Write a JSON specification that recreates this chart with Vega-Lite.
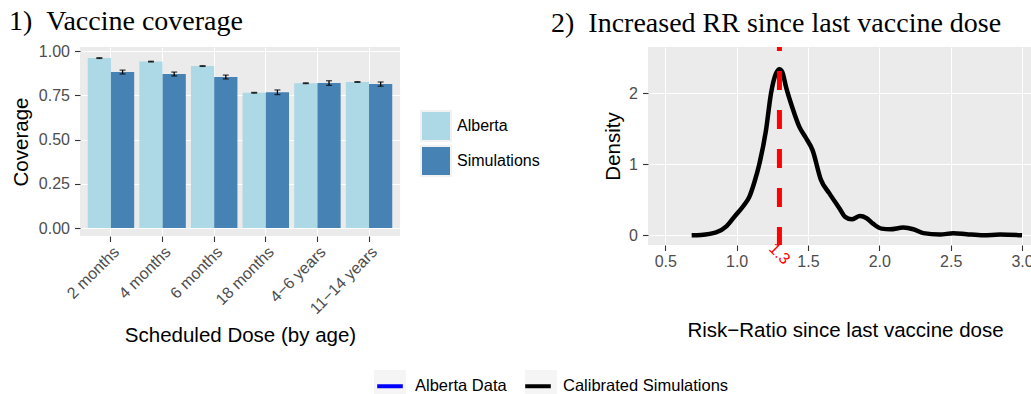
{
  "$schema": "https://vega.github.io/schema/vega-lite/v6.json",
  "autosize": {"type": "pad"},
  "padding": {"left": 9, "top": 8, "right": 0, "bottom": 0},
  "background": "white",
  "spacing": 248,
  "bounds": "flush",
  "config": {
    "font": "Liberation Sans",
    "view": {"fill": "#EBEBEB", "stroke": null},
    "axis": {
      "domain": false,
      "gridColor": "#FFFFFF",
      "gridWidth": 1.1,
      "tickColor": "#333333",
      "tickWidth": 1.1,
      "tickSize": 5.5,
      "labelColor": "#4D4D4D",
      "labelFontSize": 16,
      "labelFont": "Liberation Sans",
      "titleFont": "Liberation Sans",
      "titleFontSize": 20.5,
      "titleColor": "#000000",
      "titleFontWeight": "normal"
    },
    "legend": {"labelFont": "Liberation Sans", "labelFontSize": 16, "labelColor": "#000000", "labelLimit": 400},
    "title": {"font": "Liberation Serif", "fontSize": 28, "fontWeight": "normal", "color": "#000000", "anchor": "start", "frame": "group", "baseline": "alphabetic"}
  },
  "hconcat": [
    {
      "width": 320,
      "height": 189,
      "title": {"text": "1)\u00a0\u00a0Vaccine coverage", "dx": -71, "offset": 7},
      "data": {"values": [
        {"dose": "2 months", "source": "Alberta", "coverage": 0.960, "lo": 0.958, "hi": 0.962},
        {"dose": "2 months", "source": "Simulations", "coverage": 0.881, "lo": 0.870, "hi": 0.892},
        {"dose": "4 months", "source": "Alberta", "coverage": 0.940, "lo": 0.938, "hi": 0.942},
        {"dose": "4 months", "source": "Simulations", "coverage": 0.870, "lo": 0.859, "hi": 0.881},
        {"dose": "6 months", "source": "Alberta", "coverage": 0.915, "lo": 0.913, "hi": 0.917},
        {"dose": "6 months", "source": "Simulations", "coverage": 0.853, "lo": 0.842, "hi": 0.864},
        {"dose": "18 months", "source": "Alberta", "coverage": 0.764, "lo": 0.762, "hi": 0.766},
        {"dose": "18 months", "source": "Simulations", "coverage": 0.767, "lo": 0.754, "hi": 0.780},
        {"dose": "4\u22126 years", "source": "Alberta", "coverage": 0.818, "lo": 0.816, "hi": 0.820},
        {"dose": "4\u22126 years", "source": "Simulations", "coverage": 0.819, "lo": 0.806, "hi": 0.832},
        {"dose": "11\u221214 years", "source": "Alberta", "coverage": 0.825, "lo": 0.823, "hi": 0.827},
        {"dose": "11\u221214 years", "source": "Simulations", "coverage": 0.813, "lo": 0.801, "hi": 0.825}
      ]},
      "layer": [
        {
          "mark": {"type": "bar"},
          "encoding": {
            "x": {
              "field": "dose", "type": "nominal", "title": "Scheduled Dose (by age)",
              "sort": ["2 months", "4 months", "6 months", "18 months", "4\u22126 years", "11\u221214 years"],
              "scale": {"paddingInner": 0.1, "paddingOuter": 0.15},
              "axis": {
                "labelAngle": -45, "labelAlign": "right", "labelBaseline": "top", "labelPadding": 2,
                "bandPosition": 0.5, "grid": true, "titleY": 105.7, "titleBaseline": "alphabetic"
              }
            },
            "xOffset": {"field": "source", "type": "nominal", "sort": ["Alberta", "Simulations"], "scale": {"paddingInner": 0, "paddingOuter": 0}},
            "y": {
              "field": "coverage", "type": "quantitative", "title": "Coverage",
              "scale": {"domain": [-0.045, 1.0226], "nice": false, "zero": false},
              "axis": {
                "values": [0, 0.125, 0.25, 0.375, 0.5, 0.625, 0.75, 0.875, 1],
                "labelExpr": "(datum.value * 4) % 1 === 0 ? format(datum.value, '.2f') : ''",
                "gridWidth": {"condition": {"test": "(datum.value * 4) % 1 !== 0", "value": 0.55}, "value": 1.1},
                "tickOpacity": {"condition": {"test": "(datum.value * 4) % 1 !== 0", "value": 0}, "value": 1},
                "labelPadding": 5, "titleX": -53, "titleBaseline": "alphabetic"
              }
            },
            "color": {
              "field": "source", "type": "nominal",
              "scale": {"domain": ["Alberta", "Simulations"], "range": ["#ADD8E6", "#4682B4"]},
              "legend": {
                "title": null, "orient": "none", "legendX": 340, "legendY": 63,
                "symbolType": "square", "symbolSize": 900, "symbolStrokeColor": "#F2F2F2", "symbolStrokeWidth": 2,
                "rowPadding": -5, "labelOffset": 5
              }
            }
          }
        },
        {
          "mark": {"type": "rule", "color": "#000000", "strokeWidth": 1.3},
          "encoding": {
            "x": {"field": "dose", "type": "nominal", "title": "Scheduled Dose (by age)", "sort": ["2 months", "4 months", "6 months", "18 months", "4\u22126 years", "11\u221214 years"]},
            "xOffset": {"field": "source", "type": "nominal", "sort": ["Alberta", "Simulations"]},
            "y": {"field": "lo", "type": "quantitative", "title": "Coverage"},
            "y2": {"field": "hi"}
          }
        },
        {
          "mark": {"type": "tick", "color": "#000000", "thickness": 1.3, "size": 6},
          "encoding": {
            "x": {"field": "dose", "type": "nominal", "title": "Scheduled Dose (by age)", "sort": ["2 months", "4 months", "6 months", "18 months", "4\u22126 years", "11\u221214 years"]},
            "xOffset": {"field": "source", "type": "nominal", "sort": ["Alberta", "Simulations"]},
            "y": {"field": "lo", "type": "quantitative", "title": "Coverage"}
          }
        },
        {
          "mark": {"type": "tick", "color": "#000000", "thickness": 1.3, "size": 6},
          "encoding": {
            "x": {"field": "dose", "type": "nominal", "title": "Scheduled Dose (by age)", "sort": ["2 months", "4 months", "6 months", "18 months", "4\u22126 years", "11\u221214 years"]},
            "xOffset": {"field": "source", "type": "nominal", "sort": ["Alberta", "Simulations"]},
            "y": {"field": "hi", "type": "quantitative", "title": "Coverage"}
          }
        }
      ]
    },
    {
      "width": 394,
      "height": 198,
      "title": {"text": "2)\u00a0\u00a0Increased RR since last vaccine dose", "dx": -97, "offset": 7},
      "layer": [
        {
          "data": {"values": [
            {"rr": 0.685, "density": 0.0},
            {"rr": 0.75, "density": 0.005},
            {"rr": 0.856, "density": 0.04},
            {"rr": 0.93, "density": 0.13},
            {"rr": 0.996, "density": 0.29},
            {"rr": 1.05, "density": 0.42},
            {"rr": 1.089, "density": 0.54},
            {"rr": 1.125, "density": 0.75},
            {"rr": 1.159, "density": 1.0},
            {"rr": 1.206, "density": 1.48},
            {"rr": 1.241, "density": 2.0},
            {"rr": 1.276, "density": 2.28},
            {"rr": 1.30, "density": 2.34},
            {"rr": 1.32, "density": 2.30},
            {"rr": 1.346, "density": 2.09},
            {"rr": 1.392, "density": 1.79},
            {"rr": 1.439, "density": 1.53},
            {"rr": 1.486, "density": 1.37},
            {"rr": 1.532, "density": 1.20},
            {"rr": 1.591, "density": 0.78},
            {"rr": 1.65, "density": 0.59},
            {"rr": 1.72, "density": 0.38},
            {"rr": 1.76, "density": 0.26},
            {"rr": 1.806, "density": 0.226},
            {"rr": 1.864, "density": 0.27},
            {"rr": 1.911, "density": 0.24},
            {"rr": 1.958, "density": 0.16},
            {"rr": 2.016, "density": 0.094},
            {"rr": 2.075, "density": 0.085},
            {"rr": 2.168, "density": 0.108},
            {"rr": 2.238, "density": 0.085},
            {"rr": 2.308, "density": 0.03},
            {"rr": 2.425, "density": 0.01},
            {"rr": 2.519, "density": 0.03},
            {"rr": 2.612, "density": 0.015},
            {"rr": 2.729, "density": 0.0},
            {"rr": 2.846, "density": 0.01},
            {"rr": 3.0, "density": 0.0}
          ]},
          "mark": {"type": "line", "strokeWidth": 4.5, "interpolate": "monotone", "strokeCap": "butt"},
          "encoding": {
            "x": {
              "field": "rr", "type": "quantitative", "title": "Risk\u2212Ratio since last vaccine dose",
              "scale": {"domain": [0.379, 3.14], "nice": false, "zero": false},
              "axis": {
                "values": [0.5, 0.75, 1, 1.25, 1.5, 1.75, 2, 2.25, 2.5, 2.75, 3],
                "labelExpr": "(datum.value * 2) % 1 === 0 ? format(datum.value, '.1f') : ''",
                "gridWidth": {"condition": {"test": "(datum.value * 2) % 1 !== 0", "value": 0.55}, "value": 1.1},
                "tickOpacity": {"condition": {"test": "(datum.value * 2) % 1 !== 0", "value": 0}, "value": 1},
                "labelPadding": 3, "labelFlush": false, "labelOverlap": false, "titleY": 91.7, "titleBaseline": "alphabetic"
              }
            },
            "y": {
              "field": "density", "type": "quantitative", "title": "Density",
              "scale": {"domain": [-0.137, 2.652], "nice": false, "zero": false},
              "axis": {
                "values": [0, 0.5, 1, 1.5, 2, 2.5],
                "labelExpr": "datum.value % 1 === 0 ? format(datum.value, 'd') : ''",
                "gridWidth": {"condition": {"test": "datum.value % 1 !== 0", "value": 0.55}, "value": 1.1},
                "tickOpacity": {"condition": {"test": "datum.value % 1 !== 0", "value": 0}, "value": 1},
                "labelPadding": 5, "titleX": -28.5, "titleBaseline": "alphabetic"
              }
            },
            "stroke": {
              "datum": "Calibrated Simulations", "type": "nominal",
              "scale": {"domain": ["Alberta Data", "Calibrated Simulations"], "range": ["#0000FF", "#000000"]},
              "legend": {
                "title": null, "orient": "none", "direction": "horizontal", "legendX": 292, "legendY": 321,
                "symbolType": "M-0.8,0H0.8", "symbolSize": 1024, "symbolStrokeWidth": 4,
                "labelOffset": 7, "columnPadding": 10, "labelFontSize": 16.5, "zindex": 1
              }
            }
          }
        },
        {
          "data": {"values": [{}]},
          "mark": {"type": "rule", "color": "#FF0000", "strokeWidth": 5, "strokeDash": [19, 20], "strokeDashOffset": 15},
          "encoding": {"x": {"datum": 1.3}}
        },
        {
          "data": {"values": [{}]},
          "mark": {"type": "text", "text": "1.3", "color": "#FF0000", "angle": 45, "fontSize": 16, "align": "center", "baseline": "middle"},
          "encoding": {"x": {"datum": 1.3}, "y": {"datum": -0.263}}
        },
        {
          "data": {"values": [{}]},
          "mark": {"type": "square", "clip": true, "size": 10, "filled": true},
          "encoding": {
            "x": {"datum": 0},
            "y": {"datum": 0},
            "fill": {
              "datum": "Alberta Data\u200b", "type": "nominal",
              "scale": {"domain": ["Alberta Data\u200b", "Calibrated Simulations\u200b"], "range": ["#F2F2F2", "#F2F2F2"]},
              "legend": {
                "title": null, "orient": "none", "direction": "horizontal", "legendX": 292, "legendY": 321,
                "symbolType": "square", "symbolSize": 1024, "symbolStrokeWidth": 4, "symbolStrokeColor": "transparent",
                "labelOffset": 7, "columnPadding": 10, "labelFontSize": 16.5, "labelOpacity": 0, "zindex": 0
              }
            }
          }
        }
      ]
    }
  ]
}
